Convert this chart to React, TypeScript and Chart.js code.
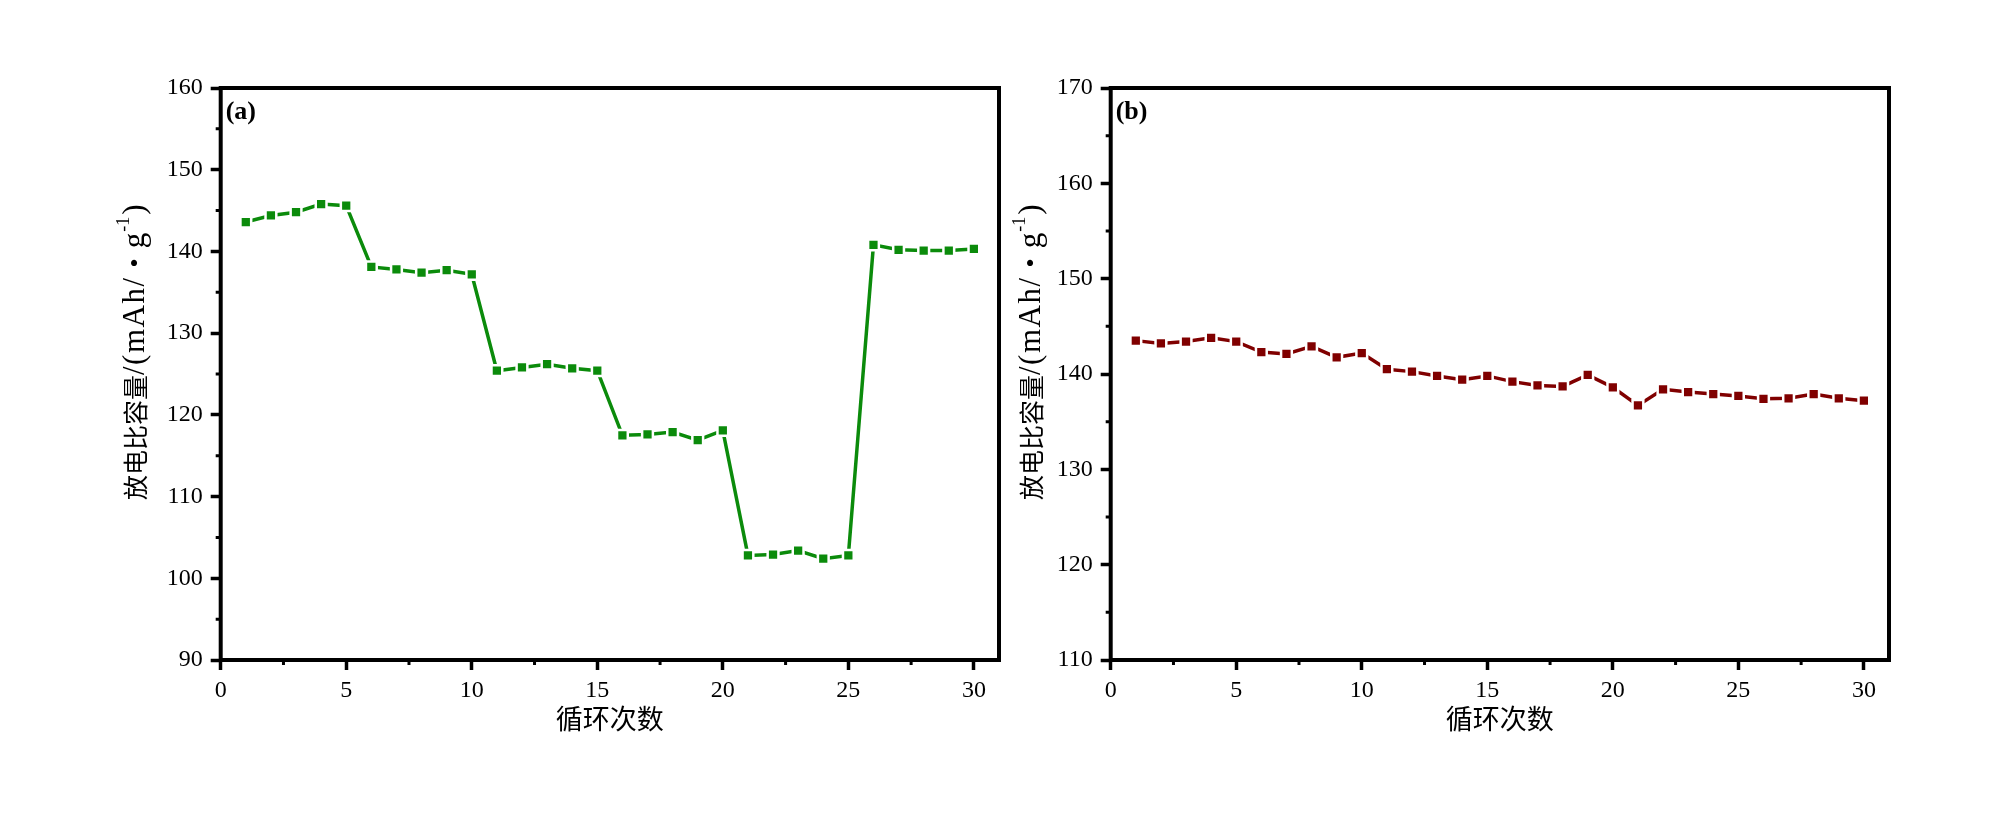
import React, { useEffect, useRef } from "react";
import { Chart, registerables } from "chart.js";

Chart.register(...registerables);

const cycles = [1, 2, 3, 4, 5, 6, 7, 8, 9, 10, 11, 12, 13, 14, 15, 16, 17, 18, 19, 20, 21, 22, 23, 24, 25, 26, 27, 28, 29, 30];

const capacityA = [143.6, 144.4, 144.8, 145.8, 145.6, 138.1, 137.8, 137.4, 137.7, 137.2,
  125.4, 125.8, 126.2, 125.7, 125.4, 117.5, 117.6, 117.9, 116.9, 118.1,
  102.8, 102.9, 103.4, 102.4, 102.8, 140.8, 140.2, 140.1, 140.1, 140.3];

const capacityB = [143.5, 143.2, 143.4, 143.8, 143.4, 142.3, 142.1, 142.9, 141.75, 142.2,
  140.5, 140.25, 139.8, 139.4, 139.8, 139.2, 138.8, 138.7, 139.9, 138.6,
  136.7, 138.4, 138.1, 137.9, 137.7, 137.4, 137.45, 137.9, 137.45, 137.2];

const xTicksMajor = [0, 5, 10, 15, 20, 25, 30];
const xTicksMinor = [2.5, 7.5, 12.5, 17.5, 22.5, 27.5];
const yRangeA = [90, 160];
const yRangeB = [110, 170];

const xTitle = "循环次数";
const yTitleCJK = "放电比容量";
const yTitleUnit = "/(mAh/";
const yTitleDot = "•";
const yTitleG = "g";
const yTitleSup = "-1";
const yTitleEnd = ")";

const SERIF = "'Liberation Serif', 'Times New Roman', 'Noto Sans CJK SC', serif";

type PanelCfg = {
  label: string;
  values: number[];
  color: string;
  yMin: number;
  yMax: number;
  yAxisWidth: number;
  rightPad: number;
  yTitleX: number;
};

function makeChart(canvas: HTMLCanvasElement, cfg: PanelCfg) {
  const yMinor: number[] = [];
  for (let v = cfg.yMin + 5; v < cfg.yMax; v += 10) yMinor.push(v);

  const decor = {
    id: "decor",
    afterDraw(chart: any) {
      const ctx = chart.ctx;
      const a = chart.chartArea;
      const xs = chart.scales.x;
      const ys = chart.scales.y;
      ctx.save();
      // frame
      ctx.strokeStyle = "#000";
      ctx.lineWidth = 4;
      ctx.strokeRect(a.left, a.top, a.right - a.left, a.bottom - a.top);
      // minor ticks
      ctx.lineWidth = 3;
      ctx.beginPath();
      xTicksMinor.forEach((v) => {
        const px = xs.getPixelForValue(v);
        ctx.moveTo(px, a.bottom);
        ctx.lineTo(px, a.bottom + 5);
      });
      yMinor.forEach((v) => {
        const py = ys.getPixelForValue(v);
        ctx.moveTo(a.left, py);
        ctx.lineTo(a.left - 5, py);
      });
      ctx.stroke();
      // panel label
      ctx.fillStyle = "#000";
      ctx.font = "bold 26px " + SERIF;
      ctx.textAlign = "left";
      ctx.textBaseline = "middle";
      ctx.fillText(cfg.label, a.left + 5, a.top + 24);
      // x title
      ctx.font = "27px " + SERIF;
      ctx.textAlign = "center";
      ctx.fillText(xTitle, (a.left + a.right) / 2, 722);
      // y title
      ctx.translate(cfg.yTitleX, 500);
      ctx.rotate(-Math.PI / 2);
      ctx.textAlign = "left";
      ctx.textBaseline = "middle";
      let off = 0;
      ctx.font = "25px 'Noto Sans CJK SC', sans-serif";
      ctx.fillText(yTitleCJK, off, 0);
      off += ctx.measureText(yTitleCJK).width;
      ctx.font = "31px " + SERIF;
      try { (ctx as any).letterSpacing = "1.5px"; } catch (e) {}
      ctx.fillText(yTitleUnit, off, 1);
      off += ctx.measureText(yTitleUnit).width;
      try { (ctx as any).letterSpacing = "0px"; } catch (e) {}
      ctx.font = "26px " + SERIF;
      off += 9;
      ctx.fillText(yTitleDot, off, 1);
      off += ctx.measureText(yTitleDot).width + 10;
      ctx.font = "31px " + SERIF;
      ctx.fillText(yTitleG, off, 1);
      off += ctx.measureText(yTitleG).width + 1;
      ctx.font = "18px " + SERIF;
      ctx.fillText(yTitleSup, off, -11);
      off += ctx.measureText(yTitleSup).width + 2;
      ctx.font = "31px " + SERIF;
      ctx.fillText(yTitleEnd, off, 1);
      ctx.restore();
    },
  };

  return new Chart(canvas, {
    type: "line",
    data: {
      datasets: [
        {
          data: cycles.map((c, i) => ({ x: c, y: cfg.values[i] })),
          borderColor: cfg.color,
          backgroundColor: cfg.color,
          borderWidth: 3.5,
          pointStyle: "rect",
          pointRadius: 7.6,
          pointBackgroundColor: cfg.color,
          pointBorderColor: "#ffffff",
          pointBorderWidth: 2.5,
          tension: 0,
        },
      ],
    },
    options: {
      animation: false,
      responsive: false,
      events: [],
      layout: { padding: { left: 0, top: 88, right: cfg.rightPad, bottom: 0 } },
      plugins: { legend: { display: false }, tooltip: { enabled: false } },
      scales: {
        x: {
          type: "linear",
          min: 0,
          max: 31,
          afterFit: (s: any) => { s.height = 156; },
          afterBuildTicks: (s: any) => { s.ticks = xTicksMajor.map((v) => ({ value: v })); },
          ticks: {
            stepSize: 5,
            includeBounds: false,
            font: { family: SERIF, size: 24 },
            color: "#000",
            padding: 6,
            maxRotation: 0,
          },
          grid: { display: true, drawOnChartArea: false, tickLength: 10, tickWidth: 3.5, tickColor: "#000" },
          border: { display: false },
        },
        y: {
          type: "linear",
          min: cfg.yMin,
          max: cfg.yMax,
          afterFit: (s: any) => { s.width = cfg.yAxisWidth; },
          ticks: {
            stepSize: 10,
            font: { family: SERIF, size: 24 },
            color: "#000",
            padding: 8,
          },
          grid: { display: true, drawOnChartArea: false, tickLength: 10, tickWidth: 3.5, tickColor: "#000" },
          border: { display: false },
        },
      },
    },
    plugins: [decor],
  });
}

export default function App() {
  const refA = useRef<HTMLCanvasElement>(null);
  const refB = useRef<HTMLCanvasElement>(null);

  useEffect(() => {
    const cA = makeChart(refA.current!, {
      label: "(a)",
      values: capacityA,
      color: "#0b8b0b",
      yMin: yRangeA[0],
      yMax: yRangeA[1],
      yAxisWidth: 220.7,
      rightPad: 11,
      yTitleX: 135,
    });
    const cB = makeChart(refB.current!, {
      label: "(b)",
      values: capacityB,
      color: "#800000",
      yMin: yRangeB[0],
      yMax: yRangeB[1],
      yAxisWidth: 100.7,
      rightPad: 111,
      yTitleX: 21,
    });
    return () => {
      cA.destroy();
      cB.destroy();
    };
  }, []);

  return (
    <div style={{ position: "fixed", left: 0, top: 0, width: 2000, height: 816, background: "#fff" }}>
      <canvas ref={refA} width={1010} height={816} style={{ position: "absolute", left: 0, top: 0, width: 1010, height: 816 }} />
      <canvas ref={refB} width={990} height={816} style={{ position: "absolute", left: 1010, top: 0, width: 990, height: 816 }} />
    </div>
  );
}
